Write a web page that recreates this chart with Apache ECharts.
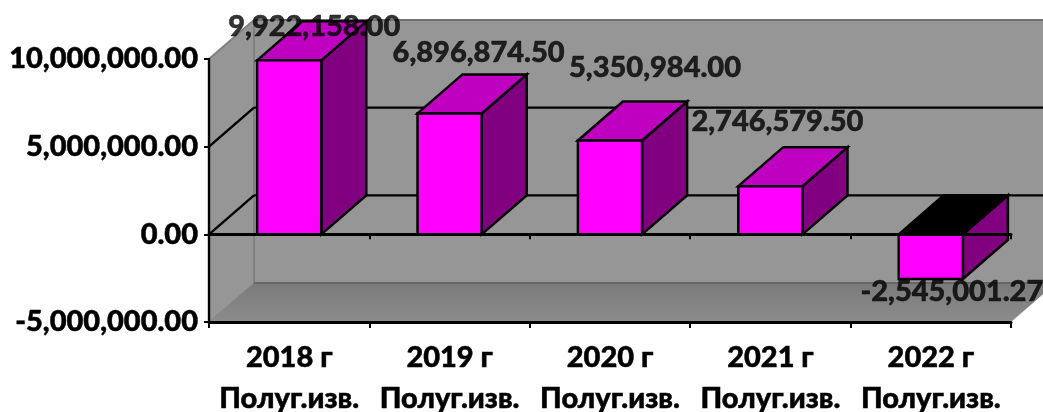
<!DOCTYPE html>
<html><head><meta charset="utf-8">
<style>html,body{margin:0;padding:0;background:#fff}#c{width:1043px;height:412px}</style>
<script src="https://cdn.jsdelivr.net/npm/echarts@6/dist/echarts.min.js"></script>
</head><body><div id="c"></div>
<script>
const categories = ['2018 г\nПолуг.изв.', '2019 г\nПолуг.изв.', '2020 г\nПолуг.изв.', '2021 г\nПолуг.изв.', '2022 г\nПолуг.изв.'];
const values = [9922158.00, 6896874.50, 5350984.00, 2746579.50, -2545001.27];
const yTicks = [-5000000, 0, 5000000, 10000000];

const DX = 45, DY = -39;            // 3D depth of the plot box
const BAR_FRACTION = 0.4;           // bar width within its category band
const FONT = 'Lato, "Open Sans", "Noto Sans", sans-serif';
const labelOffsets = [[25,-34],[29,-61],[45,-73],[7,-65],[21,13]];
const fmt = v => v.toLocaleString('en-US',{minimumFractionDigits:2,maximumFractionDigits:2});
const chart = echarts.init(document.getElementById('c'));

const poly = (pts, fill, stroke, lw, z2) => ({type:'polygon', z2:z2||0, shape:{points:pts},
  style:{fill:fill, stroke:stroke||'none', lineWidth:lw||0, lineJoin:'miter'}});
const line = (a,b,stroke,lw,z2) => ({type:'line', z2:z2||0, shape:{x1:a[0],y1:a[1],x2:b[0],y2:b[1]},
  style:{stroke:stroke, lineWidth:lw}});

function renderBox(params, api) {
  const cs = params.coordSys, L = cs.x, R = cs.x + cs.width;
  const Y = v => api.coord([0, v])[1];
  const top = Y(yTicks[yTicks.length-1]), bot = Y(yTicks[0]);
  const ch = [];
  ch.push(poly([[L+DX,top+DY],[R+DX,top+DY],[R+DX,bot+DY],[L+DX,bot+DY]], '#969696'));
  ch.push(poly([[L,top],[L+DX,top+DY],[L+DX,bot+DY],[L,bot]], '#969696'));
  ch.push(poly([[L,bot],[L+DX,bot+DY],[R+DX,bot+DY],[R,bot]],
    new echarts.graphic.LinearGradient(0,0,0,1,[{offset:0,color:'#7a7a7a'},{offset:1,color:'#8c8c8c'}])));
  // grey box edges
  ch.push(line([L+DX,top+DY],[L+DX,bot+DY],'#808080',2,1));
  ch.push(line([L+DX,top+DY],[R+DX,top+DY],'#707070',2,1));
  ch.push(line([L,top],[L+DX,top+DY],'#808080',2,1));
  ch.push(line([L+DX,bot+DY],[R+DX,bot+DY],'#666666',2,1));
  ch.push(line([L,bot],[L+DX,bot+DY],'#808080',1,1));
  // black gridlines on side and back walls
  yTicks.slice(1,-1).forEach(t => {
    const y = Y(t);
    ch.push(line([L,y],[L+DX,y+DY],'#000',2.4,2));
    ch.push(line([L+DX,y+DY],[R+DX,y+DY],'#000',2.4,2));
  });
  return {type:'group', children:ch};
}

function renderBar(params, api) {
  const i = api.value(0), v = api.value(1);
  const p = api.coord([i, v]), o = api.coord([i, 0]);
  const w = api.size([1,0])[0] * BAR_FRACTION;
  const x0 = p[0]-w/2, x1 = p[0]+w/2;
  const yV = p[1], y0 = o[1];
  const up = Math.min(yV,y0), dn = Math.max(yV,y0);
  const capFill = v < 0 ? '#000000' : '#c000c0';
  const S = '#000', LW = 2.5;
  return {type:'group', children:[
    poly([[x1,up],[x1+DX,up+DY],[x1+DX,dn+DY],[x1,dn]], '#800080', S, LW),
    poly([[x0,up],[x0+DX,up+DY],[x1+DX,up+DY],[x1,up]], capFill, S, LW),
    poly([[x0,up],[x1,up],[x1,dn],[x0,dn]], '#ff00ff', S, LW)
  ]};
}

const labelStyle = {fontFamily:FONT, fontWeight:900, fontSize:29, color:'#000', textBorderColor:'#000', textBorderWidth:0.5};

chart.setOption({
  animation:false,
  backgroundColor:'#fff',
  grid:{left:209, right:32, top:59, bottom:90, containLabel:false, outerBoundsMode:'none'},
  xAxis:[
    {type:'category', data:categories, position:'bottom',
     axisLine:{onZero:false, lineStyle:{color:'#000',width:3}},
     axisTick:{show:true, alignWithLabel:false, length:6, lineStyle:{color:'#000',width:2}},
     axisLabel:{...labelStyle, interval:0, margin:15, lineHeight:41},
     splitLine:{show:false}, z:20},
    {type:'category', data:categories, position:'bottom',
     axisLine:{onZero:true, lineStyle:{color:'#000',width:3}},
     axisTick:{show:true, length:5, lineStyle:{color:'#000',width:2}},
     axisLabel:{show:false}, splitLine:{show:false}, z:20}
  ],
  yAxis:{type:'value', min:yTicks[0], max:yTicks[yTicks.length-1], interval:5000000,
    axisLine:{show:true, onZero:false, lineStyle:{color:'#000',width:2.4}},
    axisTick:{show:true, length:5, lineStyle:{color:'#000',width:2}},
    axisLabel:{...labelStyle, margin:11, formatter:fmt},
    splitLine:{show:false}, z:20},
  series:[
    {type:'custom', coordinateSystem:'cartesian2d', renderItem:renderBox, data:[[0,0]], z:1, silent:true},
    {type:'custom', coordinateSystem:'cartesian2d', renderItem:renderBar,
     data:values.map((v,i)=>[i,v]), z:2, encode:{x:0,y:1}},
    {type:'scatter', symbolSize:0, z:30,
     data:values.map((v,i)=>({value:[i,v], label:{offset:labelOffsets[i]}})),
     label:{show:true, position:'inside', ...labelStyle, formatter:p=>fmt(p.value[1])}}
  ]
});
</script></body></html>
